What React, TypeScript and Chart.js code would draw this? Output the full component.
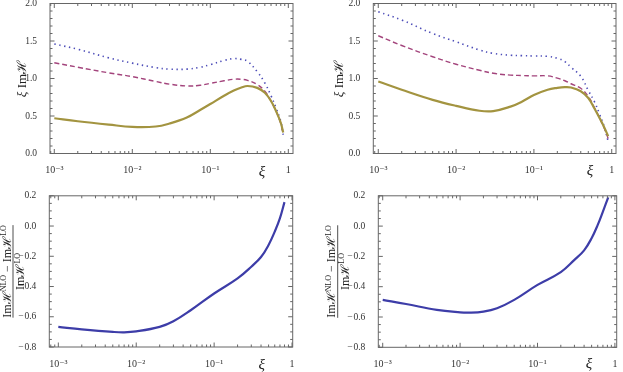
import React, { useEffect, useRef } from "react";
import { Chart, registerables } from "chart.js";

Chart.register(...registerables);

// ---------- data ----------
const xiTopLeft = [0.001, 0.002, 0.005, 0.01, 0.02, 0.03, 0.05, 0.074, 0.1, 0.15, 0.2, 0.25, 0.3, 0.4, 0.5, 0.6, 0.7, 0.8, 0.86];
const dottedTopLeft = [1.46, 1.39, 1.275, 1.205, 1.145, 1.125, 1.125, 1.15, 1.185, 1.24, 1.265, 1.255, 1.23, 1.09, 0.94, 0.77, 0.6, 0.43, 0.25];
const dashedTopLeft = [1.21, 1.15, 1.075, 1.025, 0.96, 0.925, 0.9, 0.91, 0.935, 0.97, 0.99, 0.99, 0.975, 0.92, 0.83, 0.7, 0.56, 0.4, 0.26];
const solidTopLeft = [0.47, 0.43, 0.385, 0.355, 0.36, 0.4, 0.48, 0.58, 0.66, 0.77, 0.84, 0.88, 0.9, 0.875, 0.81, 0.7, 0.56, 0.41, 0.28];

const xiTopRight = [0.001, 0.002, 0.005, 0.01, 0.02, 0.03, 0.05, 0.07, 0.1, 0.15, 0.2, 0.25, 0.3, 0.4, 0.5, 0.6, 0.7, 0.8, 0.9];
const dottedTopRight = [1.89, 1.78, 1.6, 1.49, 1.38, 1.335, 1.31, 1.305, 1.3, 1.295, 1.27, 1.225, 1.15, 1.03, 0.84, 0.69, 0.52, 0.36, 0.16];
const dashedTopRight = [1.57, 1.44, 1.29, 1.19, 1.11, 1.07, 1.045, 1.04, 1.035, 1.035, 1.005, 0.97, 0.93, 0.87, 0.76, 0.61, 0.47, 0.34, 0.2];
const solidTopRight = [0.96, 0.85, 0.715, 0.635, 0.57, 0.565, 0.625, 0.69, 0.78, 0.85, 0.875, 0.885, 0.88, 0.83, 0.74, 0.6, 0.47, 0.35, 0.23];

const xiBottomLeft = [0.001, 0.002, 0.005, 0.007, 0.01, 0.02, 0.03, 0.05, 0.1, 0.2, 0.3, 0.4, 0.5, 0.6, 0.7, 0.8];
const ratioBottomLeft = [-0.667, -0.683, -0.7, -0.703, -0.697, -0.667, -0.63, -0.557, -0.446, -0.346, -0.269, -0.205, -0.125, -0.037, 0.052, 0.158];

const xiBottomRight = [0.001, 0.002, 0.005, 0.01, 0.013, 0.02, 0.03, 0.05, 0.1, 0.2, 0.3, 0.4, 0.5, 0.6, 0.7, 0.82];
const ratioBottomRight = [-0.487, -0.514, -0.553, -0.569, -0.571, -0.564, -0.542, -0.487, -0.388, -0.304, -0.223, -0.16, -0.08, 0.008, 0.096, 0.19];

const xTickValues = [0.001, 0.01, 0.1, 1];
const xTickLabels = ["10\u207B\u00B3", "10\u207B\u00B2", "10\u207B\u00B9", "1"];
const topYTickValues = [0, 0.5, 1, 1.5, 2];
const topYTickLabels = ["0.0", "0.5", "1.0", "1.5", "2.0"];
const bottomYTickValues = [-0.8, -0.6, -0.4, -0.2, 0, 0.2];
const bottomYTickLabels = ["\u2212\u200A0.8", "\u2212\u200A0.6", "\u2212\u200A0.4", "\u2212\u200A0.2", "0.0", "0.2"];

// ---------- style ----------
const SERIF = "'Liberation Serif', 'DejaVu Serif', serif";
const FRAME = "#666666";
const TEXT = "#333333";
const BLUE_DOT = "#4d4db8";
const PURPLE = "#a3447c";
const OLIVE = "#a39440";
const BLUE = "#3d3da8";

type Piece = { t: string; size: number; dy?: number; italic?: boolean };

function drawPieces(ctx: CanvasRenderingContext2D, pieces: Piece[], centerU: number, v: number) {
  const fontOf = (p: Piece) => `${p.italic ? "italic " : ""}${p.size}px ${SERIF}`;
  let total = 0;
  const widths = pieces.map((p) => {
    ctx.font = fontOf(p);
    const w = ctx.measureText(p.t).width;
    total += w;
    return w;
  });
  let u = centerU - total / 2;
  pieces.forEach((p, i) => {
    ctx.font = fontOf(p);
    ctx.fillText(p.t, u, v + (p.dy || 0));
    u += widths[i];
  });
  return total;
}

const decorPlugin = {
  id: "decor",
  afterDatasetsDraw(chart: any, _args: any, opts: any) {
    const ctx: CanvasRenderingContext2D = chart.ctx;
    const { left, right, top, bottom } = chart.chartArea;
    const xs = chart.scales.x;
    const ys = chart.scales.y;
    ctx.save();
    ctx.strokeStyle = FRAME;
    ctx.lineWidth = 1;
    ctx.strokeRect(left, top, right - left, bottom - top);

    const tick = (x1: number, y1: number, x2: number, y2: number) => {
      ctx.beginPath();
      ctx.moveTo(x1, y1);
      ctx.lineTo(x2, y2);
      ctx.stroke();
    };
    // log x ticks
    for (let d = -4; d <= 0; d++) {
      for (let m = 1; m <= 9; m++) {
        const val = m * Math.pow(10, d);
        if (val < xs.min || val > xs.max) continue;
        const px = xs.getPixelForValue(val);
        const len = m === 1 ? 4.5 : 2.5;
        tick(px, bottom, px, bottom - len);
        tick(px, top, px, top + len);
      }
    }
    // y ticks
    const majors: number[] = opts.yMajor;
    const step: number = opts.yMinorStep;
    const n = Math.round((ys.max - ys.min) / step);
    for (let i = 0; i <= n; i++) {
      const val = ys.min + i * step;
      const isMajor = majors.some((mv) => Math.abs(mv - val) < 1e-6);
      const py = ys.getPixelForValue(val);
      const len = isMajor ? 4.5 : 2.5;
      tick(left, py, left + len, py);
      tick(right, py, right - len, py);
    }

    ctx.fillStyle = "#222222";
    // x title
    ctx.font = `italic 15px ${SERIF}`;
    ctx.textAlign = "center";
    ctx.textBaseline = "middle";
    ctx.fillText("\u03BE", right - opts.xiDx, bottom + opts.xiDy);
    ctx.textAlign = "left";
    ctx.textBaseline = "alphabetic";

    const midY = (top + bottom) / 2;
    if (opts.kind === "top") {
      ctx.save();
      ctx.translate(opts.titleX, midY);
      ctx.rotate(-Math.PI / 2);
      drawPieces(
        ctx,
        [
          { t: "\u03BE", size: 13, italic: true },
          { t: " Im", size: 13 },
          { t: "\u210B", size: 13 },
        ],
        0,
        0
      );
      ctx.restore();
    } else {
      ctx.save();
      ctx.translate(opts.titleX, midY);
      ctx.rotate(-Math.PI / 2);
      const numer: Piece[] = [
        { t: "Im", size: 12 },
        { t: "\u210B", size: 12 },
        { t: "NLO", size: 8, dy: -4.5 },
        { t: " \u2212 ", size: 12 },
        { t: "Im", size: 12 },
        { t: "\u210B", size: 12 },
        { t: "LO", size: 8, dy: -4.5 },
      ];
      const denom: Piece[] = [
        { t: "Im", size: 12 },
        { t: "\u210B", size: 12 },
        { t: "LO", size: 8, dy: -4.5 },
      ];
      const w = drawPieces(ctx, numer, 0, -2.5);
      drawPieces(ctx, denom, 0, 11);
      ctx.strokeStyle = "#222222";
      ctx.lineWidth = 0.8;
      ctx.beginPath();
      ctx.moveTo(-w / 2, 0);
      ctx.lineTo(w / 2, 0);
      ctx.stroke();
      ctx.restore();
    }
    ctx.restore();
  },
};

type PanelCfg = {
  x: number;
  y: number;
  w: number;
  h: number;
  area: { l: number; r: number; t: number; b: number };
  xMin: number;
  xMax: number;
  yMin: number;
  yMax: number;
  yTicks: number[];
  yLabels: string[];
  yMinorStep: number;
  kind: "top" | "frac";
  titleX: number;
  xiDx: number;
  xiDy: number;
  datasets: any[];
};

function pts(xs: number[], ys: number[]) {
  return xs.map((x, i) => ({ x, y: ys[i] }));
}

const dotted = (xs: number[], ys: number[]) => ({
  data: pts(xs, ys),
  borderColor: BLUE_DOT,
  borderWidth: 1.6,
  borderDash: [1.4, 3.6],
  pointRadius: 0,
  tension: 0.4,
  fill: false,
  order: 3,
});
const dashed = (xs: number[], ys: number[]) => ({
  data: pts(xs, ys),
  borderColor: PURPLE,
  borderWidth: 1.4,
  borderDash: [5, 3],
  pointRadius: 0,
  tension: 0.4,
  fill: false,
  order: 2,
});
const solid = (xs: number[], ys: number[], color: string) => ({
  data: pts(xs, ys),
  borderColor: color,
  borderWidth: 2.2,
  pointRadius: 0,
  tension: 0.4,
  fill: false,
  order: 1,
});

const panels: PanelCfg[] = [
  {
    x: 0, y: 0, w: 311, h: 186,
    area: { l: 50, r: 293, t: 3.5, b: 153.5 },
    xMin: 8.81e-4, xMax: 1.148, yMin: 0, yMax: 2,
    yTicks: topYTickValues, yLabels: topYTickLabels, yMinorStep: 0.1,
    kind: "top", titleX: 25.5, xiDx: 31, xiDy: 19,
    datasets: [solid(xiTopLeft, solidTopLeft, OLIVE), dashed(xiTopLeft, dashedTopLeft), dotted(xiTopLeft, dottedTopLeft)],
  },
  {
    x: 311, y: 0, w: 312, h: 186,
    area: { l: 62.3, r: 305, t: 3.5, b: 153.5 },
    xMin: 8.63e-4, xMax: 1.135, yMin: 0, yMax: 2,
    yTicks: topYTickValues, yLabels: topYTickLabels, yMinorStep: 0.1,
    kind: "top", titleX: 32, xiDx: 26, xiDy: 18,
    datasets: [solid(xiTopRight, solidTopRight, OLIVE), dashed(xiTopRight, dashedTopRight), dotted(xiTopRight, dottedTopRight)],
  },
  {
    x: 0, y: 186, w: 311, h: 186,
    area: { l: 49.3, r: 292.7, t: 9.8, b: 161 },
    xMin: 7.66e-4, xMax: 1.02, yMin: -0.8, yMax: 0.2,
    yTicks: bottomYTickValues, yLabels: bottomYTickLabels, yMinorStep: 0.05,
    kind: "frac", titleX: 13, xiDx: 31, xiDy: 18,
    datasets: [solid(xiBottomLeft, ratioBottomLeft, BLUE)],
  },
  {
    x: 311, y: 186, w: 312, h: 186,
    area: { l: 67.3, r: 305.7, t: 9.8, b: 161.3 },
    xMin: 8.77e-4, xMax: 1.055, yMin: -0.8, yMax: 0.2,
    yTicks: bottomYTickValues, yLabels: bottomYTickLabels, yMinorStep: 0.05,
    kind: "frac", titleX: 26.7, xiDx: 27.7, xiDy: 16.5,
    datasets: [solid(xiBottomRight, ratioBottomRight, BLUE)],
  },
];

function Panel({ cfg }: { cfg: PanelCfg }) {
  const ref = useRef<HTMLCanvasElement>(null);
  useEffect(() => {
    if (!ref.current) return;
    const a = cfg.area;
    const chart = new Chart(ref.current, {
      type: "line",
      data: { datasets: cfg.datasets },
      plugins: [decorPlugin as any],
      options: {
        animation: false,
        responsive: false,
        devicePixelRatio: 1,
        layout: { padding: { top: a.t, right: cfg.w - a.r, left: 0, bottom: 0 } },
        plugins: {
          legend: { display: false },
          tooltip: { enabled: false },
          decor: {
            kind: cfg.kind,
            titleX: cfg.titleX,
            xiDx: cfg.xiDx,
            xiDy: cfg.xiDy,
            yMajor: cfg.yTicks,
            yMinorStep: cfg.yMinorStep,
          },
        } as any,
        scales: {
          x: {
            type: "logarithmic",
            min: cfg.xMin,
            max: cfg.xMax,
            grid: { display: false },
            border: { display: false },
            ticks: {
              autoSkip: false,
              maxRotation: 0,
              padding: 3,
              color: TEXT,
              font: { family: SERIF, size: 10 },
              callback: (v: any) => {
                const i = xTickValues.findIndex((t) => Math.abs(Math.log10(t) - Math.log10(Number(v))) < 1e-6);
                return i >= 0 ? xTickLabels[i] : "";
              },
            },
            afterBuildTicks: (s: any) => {
              s.ticks = xTickValues.map((v) => ({ value: v }));
            },
            afterFit: (s: any) => {
              s.height = cfg.h - a.b;
              s.paddingLeft = 0;
              s.paddingRight = 0;
            },
          },
          y: {
            type: "linear",
            min: cfg.yMin,
            max: cfg.yMax,
            grid: { display: false },
            border: { display: false },
            ticks: {
              autoSkip: false,
              padding: 5,
              color: TEXT,
              font: { family: SERIF, size: 9.5 },
              callback: (v: any) => {
                const i = cfg.yTicks.findIndex((t) => Math.abs(t - Number(v)) < 1e-6);
                return i >= 0 ? cfg.yLabels[i] : "";
              },
            },
            afterBuildTicks: (s: any) => {
              s.ticks = cfg.yTicks.map((v) => ({ value: v }));
            },
            afterFit: (s: any) => {
              s.width = a.l;
              s.paddingTop = 0;
              s.paddingBottom = 0;
            },
          },
        },
      } as any,
    });
    return () => chart.destroy();
  }, []);
  return (
    <canvas
      ref={ref}
      width={cfg.w}
      height={cfg.h}
      style={{ position: "absolute", left: cfg.x, top: cfg.y, width: cfg.w, height: cfg.h }}
    />
  );
}

export default function App() {
  return (
    <div style={{ position: "fixed", left: 0, top: 0, width: 623, height: 372, background: "#ffffff" }}>
      {panels.map((p, i) => (
        <Panel key={i} cfg={p} />
      ))}
    </div>
  );
}
